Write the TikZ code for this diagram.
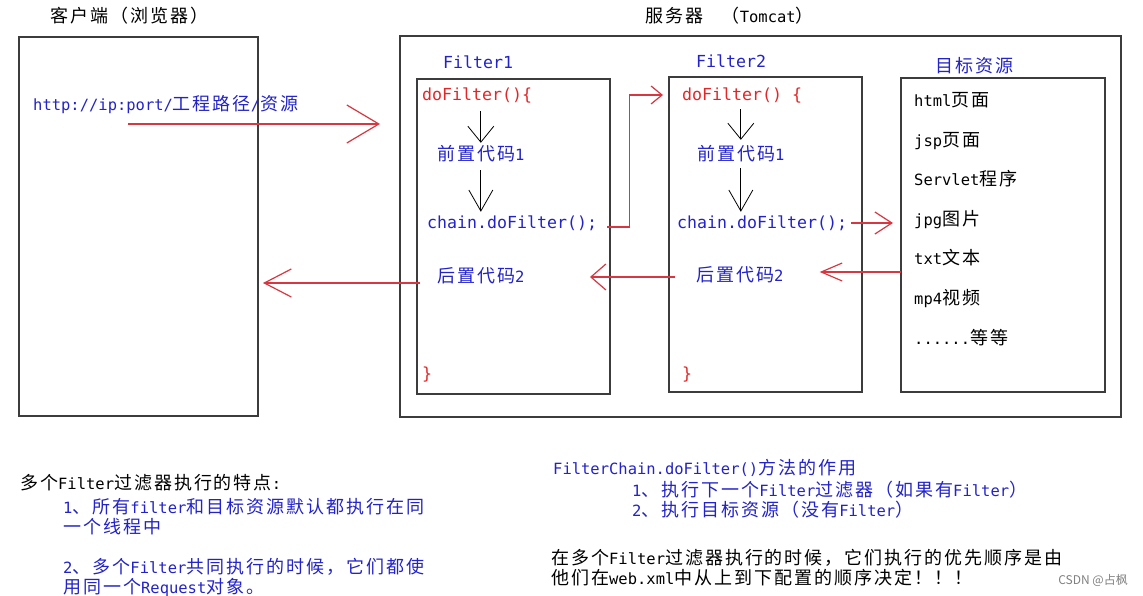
\documentclass[tikz,border=0pt]{standalone}
\usepackage{fontspec}
\setmainfont{Noto Sans CJK SC}[LetterSpace=11]
\newfontfamily\latinfont{DejaVu Sans Mono}[Scale=0.86]
\newfontfamily\codefont{DejaVu Sans Mono}
\newfontfamily\markfont{Noto Sans CJK SC}
\usetikzlibrary{arrows.meta,positioning}
\newcommand{\en}[1]{{\latinfont #1}}
\definecolor{inkblue}{RGB}{35,35,200}
\definecolor{inkred}{RGB}{225,40,40}
\definecolor{linered}{RGB}{215,55,65}
\definecolor{framegray}{RGB}{60,60,60}

\begin{document}
\begin{tikzpicture}[
    x=1pt, y=-1pt,
    frame/.style = {draw=framegray, line width=1.3pt, inner sep=0, outer sep=0, anchor=north west},
    one/.style = {inner sep=0, anchor=west, text height=15pt, text depth=3pt, font=\fontsize{18}{20}\selectfont},
    code/.style = {inner sep=0, anchor=west, text height=15pt, text depth=3pt, font=\codefont\fontsize{16.6}{20}\selectfont},
    para/.style = {inner sep=0, anchor=west, align=left, font=\fontsize{18}{20}\selectfont},
    down/.style 2 args = {draw=black, line width=0.8pt, -{Straight Barb[length=#1pt,width=#2pt]}},
    redarrow/.style 2 args = {draw=linered, line width=1.2pt, -{Straight Barb[length=#1pt,width=#2pt]}}
]
    \useasboundingbox (0,0) rectangle (1143,596);
    \fill[white] (0,0) rectangle (1143,596);

    % Client and server frames
    \node[one] (clientT) at (50,17) {客户端（浏览器）};
    \node[frame, minimum width=239, minimum height=379] (client) at (19,37) {};
    \node[one] (serverT) at (645,17) {服务器\en{\ \ }（\en{Tomcat}）};
    \node[frame, minimum width=721, minimum height=381] (server) at (400,36) {};

    % Request from the browser
    \node[one, text=inkblue] (url) at (33,105) {\en{http://ip:port/}工程路径\en{/}资源};
    \coordinate (reqA) at (128,124);
    \coordinate (reqB) at (380,124);
    \draw[redarrow={32}{38}] (reqA) -- (reqB);

    % Filter1
    \node[code, text=inkblue] (headA) at (443,63) {Filter1};
    \node[frame, minimum width=193, minimum height=315] (filterA) at (417,79) {};
    \node[code, text=inkred] (doA) at (422,95) {doFilter()\{};
    \node[one, text=inkblue] (preA) at (437,155) {前置代码\en{1}};
    \node[code, text=inkblue] (chainA) at (427,223) {chain.doFilter();};
    \node[one, text=inkblue] (postA) at (437,276) {后置代码\en{2}};
    \node[code, text=inkred] (endA) at (422,373) {\}};

    % Filter2
    \node[code, text=inkblue] (headB) at (696,62) {Filter2};
    \node[frame, minimum width=193, minimum height=315] (filterB) at (669,77) {};
    \node[code, text=inkred] (doB) at (682,95) {doFilter() \{};
    \node[one, text=inkblue] (preB) at (697,155) {前置代码\en{1}};
    \node[code, text=inkblue] (chainB) at (677,223) {chain.doFilter();};
    \node[one, text=inkblue] (postB) at (696,275) {后置代码\en{2}};
    \node[code, text=inkred] (endB) at (682,373) {\}};

    % Target resources
    \node[one, text=inkblue] (headT) at (935,67) {目标资源};
    \node[frame, minimum width=204, minimum height=314] (target) at (901,78) {};
    \foreach \txt [count=\i] in {{\en{html}页面}, {\en{jsp}页面}, {\en{Servlet}程序}, {\en{jpg}图片},
                                 {\en{txt}文本}, {\en{mp4}视频}, {\en{......}等等}}
        \node[one] (res\i) at (914,{101+(\i-1)*39.5}) {\txt};

    % Flow inside the filters
    \draw[down={16}{26}] ([yshift=-7pt]preA.north |- doA.south) -- ([yshift=3pt]preA.north);
    \draw[down={21}{24}] ([yshift=-6pt]preA.south) -- ([yshift=2pt]preA.south |- chainA.north);
    \draw[down={16}{26}] ([yshift=-5pt]preB.north |- doB.south) -- ([yshift=6pt]preB.north);
    \draw[down={21}{24}] ([yshift=-4pt]preB.south) -- ([yshift=2pt]preB.south |- chainB.north);

    % Forward and return path
    \draw[redarrow={11}{18}] ([xshift=10pt,yshift=-4pt]chainA.east) -- ++(22,0) |- ([xshift=-19pt]doB.west);
    \draw[redarrow={17}{22}] ([xshift=4pt]chainB.east) -- ([xshift=-8pt]chainB.east -| target.west);
    \draw[redarrow={21}{18}] ([yshift=3pt]target.west |- postB.east) -- ([xshift=36pt,yshift=3pt]postB.east);
    \draw[redarrow={15}{26}] ([xshift=-21pt,yshift=-2pt]postB.west) -- ([xshift=-106pt,yshift=-2pt]postB.west);
    \draw[redarrow={27}{28}] ([xshift=-17pt,yshift=-7pt]postA.west) -- ([xshift=5pt,yshift=-7pt]postA.west -| client.east);

    % Notes
    \node[one] (featT) at (20,483) {多个\en{Filter}过滤器执行的特点\en{:}};
    \node[para, text=inkblue] (featA) at (63,517) {\en{1}、所有\en{filter}和目标资源默认都执行在同\\一个线程中};
    \node[para, text=inkblue] (featB) at (63,577) {\en{2}、多个\en{Filter}共同执行的时候，它们都使\\用同一个\en{Request}对象。};
    \node[one, text=inkblue] (chainT) at (553,468) {\en{FilterChain.doFilter()}方法的作用};
    \node[para, text=inkblue] (chainL) at (632,500) {\en{1}、执行下一个\en{Filter}过滤器（如果有\en{Filter}）\\\en{2}、执行目标资源（没有\en{Filter}）};
    \node[para] (orderT) at (551,568) {在多个\en{Filter}过滤器执行的时候，它们执行的优先顺序是由\\他们在\en{web.xml}中从上到下配置的顺序决定！！！};
    \node[inner sep=0, anchor=east, text=gray, font=\markfont\fontsize{12}{14}\selectfont] (mark) at (1128,580) {CSDN @占枫};
\end{tikzpicture}
\end{document}
